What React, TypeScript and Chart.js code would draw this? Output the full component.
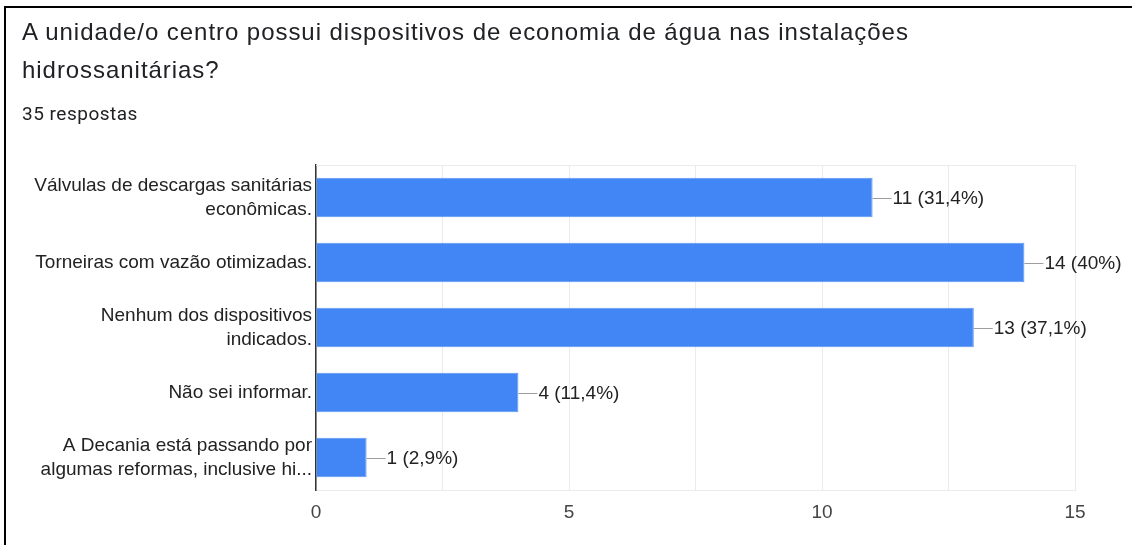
import React, { useEffect, useRef } from "react";
import { Chart, registerables } from "chart.js";

Chart.register(...registerables);

const titleLines = [
  "A unidade/o centro possui dispositivos de economia de água nas instalações",
  "hidrossanitárias?",
];
const subtitle = "35 respostas";
const categories: (string | string[])[] = [
  ["Válvulas de descargas sanitárias", "econômicas."],
  "Torneiras com vazão otimizadas.",
  ["Nenhum dos dispositivos", "indicados."],
  "Não sei informar.",
  ["A Decania está passando por", "algumas reformas, inclusive hi..."],
];
const counts = [11, 14, 13, 4, 1];
const percentLabels = ["31,4%", "40%", "37,1%", "11,4%", "2,9%"];
const tickLabels = ["0", "5", "10", "15"];

const LABEL_FONT = '"Liberation Sans", Arial, sans-serif';

export default function App() {
  const canvasRef = useRef<HTMLCanvasElement | null>(null);

  useEffect(() => {
    document.body.style.margin = "0";
    const canvas = canvasRef.current;
    if (!canvas) return;

    const valueLabels = {
      id: "valueLabels",
      afterDatasetsDraw(chart: any) {
        const ctx = chart.ctx;
        const meta = chart.getDatasetMeta(0);
        ctx.save();
        meta.data.forEach((bar: any, i: number) => {
          const x = bar.x;
          const y = bar.y;
          ctx.strokeStyle = "#9e9e9e";
          ctx.lineWidth = 1;
          ctx.beginPath();
          ctx.moveTo(x, Math.round(y) + 0.5);
          ctx.lineTo(x + 19, Math.round(y) + 0.5);
          ctx.stroke();
          ctx.fillStyle = "#222222";
          ctx.font = `19px ${LABEL_FONT}`;
          ctx.textAlign = "left";
          ctx.textBaseline = "middle";
          ctx.fillText(`${counts[i]} (${percentLabels[i]})`, x + 20, y + 1);
        });
        ctx.restore();
      },
    };

    const frameTop = {
      id: "frameTop",
      beforeDatasetsDraw(chart: any) {
        const { ctx, chartArea } = chart;
        ctx.save();
        ctx.strokeStyle = "#ebebeb";
        ctx.lineWidth = 1;
        ctx.beginPath();
        ctx.moveTo(chartArea.left, chartArea.top + 0.5);
        ctx.lineTo(chartArea.right, chartArea.top + 0.5);
        ctx.stroke();
        ctx.restore();
      },
    };

    const chart = new Chart(canvas, {
      type: "bar",
      data: {
        labels: categories,
        datasets: [
          {
            data: counts,
            backgroundColor: "#4285f4",
            borderColor: "#5b95f5",
            borderWidth: 1,
            categoryPercentage: 1,
            barPercentage: 0.61,
          },
        ],
      },
      options: {
        indexAxis: "y",
        animation: false,
        responsive: false,
        maintainAspectRatio: false,
        layout: { padding: { left: 0, right: 57, top: 165, bottom: 0 } },
        plugins: {
          legend: { display: false },
          tooltip: { enabled: false },
          title: { display: false },
        },
        scales: {
          x: {
            min: 0,
            max: 15,
            ticks: {
              stepSize: 2.5,
              autoSkip: false,
              maxRotation: 0,
              padding: 11,
              color: "#444444",
              font: { family: LABEL_FONT, size: 19 },
              callback: (v: any) => {
                const s = String(v);
                return tickLabels.includes(s) ? s : "";
              },
            },
            grid: { color: "#ebebeb", drawTicks: false },
            border: { color: "#ebebeb" },
            afterFit: (scale: any) => {
              scale.height = 55;
            },
          },
          y: {
            ticks: {
              padding: 4,
              color: "#222222",
              font: { family: LABEL_FONT, size: 19, lineHeight: 1.27 },
            },
            grid: { display: false, drawTicks: false },
            border: { color: "#333333", width: 1.5 },
            afterFit: (scale: any) => {
              scale.width = 316;
            },
          },
        },
      },
      plugins: [frameTop, valueLabels],
    });

    return () => chart.destroy();
  }, []);

  return (
    <div
      style={{
        position: "relative",
        width: 1132,
        height: 545,
        background: "#ffffff",
        overflow: "hidden",
      }}
    >
      <canvas
        ref={canvasRef}
        width={1132}
        height={545}
        style={{ position: "absolute", left: 0, top: 0 }}
      />
      <div
        style={{
          position: "absolute",
          left: 4,
          top: 6,
          width: 1128,
          height: 539,
          borderLeft: "2.5px solid #000",
          borderTop: "2.5px solid #000",
          boxSizing: "border-box",
          pointerEvents: "none",
        }}
      />
      <div
        style={{
          position: "absolute",
          left: 22,
          top: 13,
          fontFamily: LABEL_FONT,
          fontSize: 24,
          letterSpacing: "0.95px",
          lineHeight: "38px",
          color: "#202124",
          whiteSpace: "nowrap",
        }}
      >
        {titleLines.map((l, i) => (
          <div key={i}>{l}</div>
        ))}
      </div>
      <div
        style={{
          position: "absolute",
          left: 22,
          top: 103,
          fontFamily: "Roboto, sans-serif",
          fontSize: 19,
          letterSpacing: "0.5px",
          lineHeight: "22px",
          color: "#202124",
          whiteSpace: "nowrap",
        }}
      >
        {subtitle}
      </div>
    </div>
  );
}
